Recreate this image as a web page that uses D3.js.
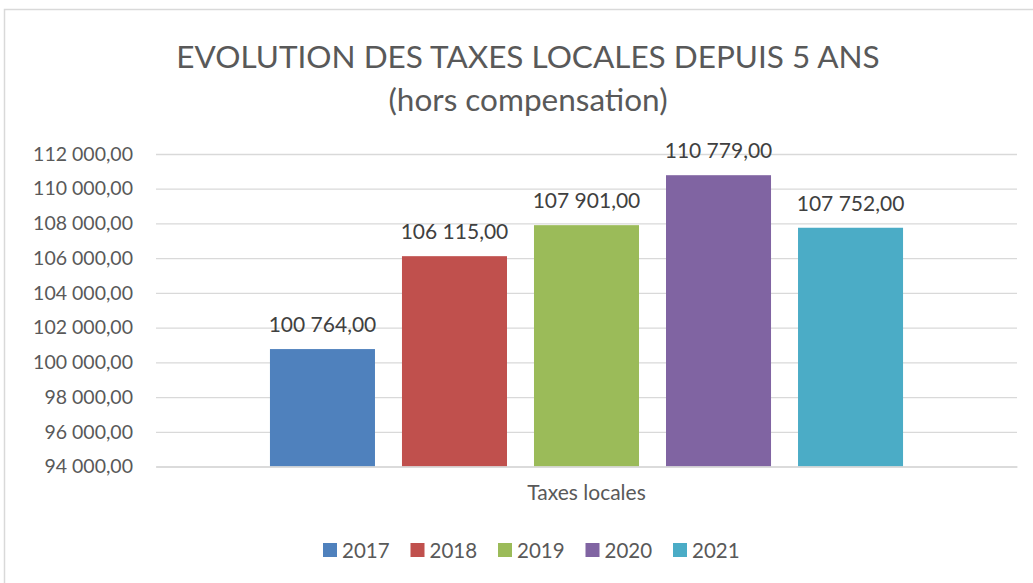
<!doctype html>
<html>
<head>
    <meta charset="utf-8">
    <script src="https://d3js.org/d3.v7.min.js"></script>
    <style>
        body { margin: 0; background: #fff; }
        text { font-family: Lato, "Open Sans", sans-serif; }
    </style>
</head>
<body>
    <script>
        // donnees
        var categorie = ["Taxes locales"];
        var annees = ["2017", "2018", "2019", "2020", "2021"];
        var valeurs = [100764, 106115, 107901, 110779, 107752];
        var couleurs = ["#4f81bd", "#c0504d", "#9bbb59", "#8064a2", "#4bacc6"];
        var ticksY = [94000, 96000, 98000, 100000, 102000, 104000, 106000, 108000, 110000, 112000];

        var width = 1033;
        var height = 583;

        var fr = d3.formatLocale({ decimal: ",", thousands: " ", grouping: [3], currency: ["", " €"] });
        var fmt = fr.format(",.2f");

        var svg = d3.select("body").append("svg")
            .attr("width", width)
            .attr("height", height);

        // cadre du graphique (coupe a droite et en bas)
        svg.append("rect")
            .attr("x", 4.5).attr("y", 9.5)
            .attr("width", 1040).attr("height", 600)
            .attr("fill", "#fff")
            .attr("stroke", "#d9d9d9")
            .attr("stroke-width", 1.5);

        // titre
        svg.append("text")
            .attr("x", 528).attr("y", 68)
            .attr("text-anchor", "middle")
            .attr("font-size", 31.5)
            .attr("fill", "#595959")
            .text("EVOLUTION DES TAXES LOCALES DEPUIS 5 ANS");
        svg.append("text")
            .attr("x", 528).attr("y", 111)
            .attr("text-anchor", "middle")
            .attr("font-size", 31.5)
            .attr("fill", "#595959")
            .text("(hors compensation)");

        var y = d3.scaleLinear()
            .domain([94000, 112000])
            .range([466.5, 154]);

        var x0 = d3.scaleBand()
            .domain(categorie)
            .range([156, 1017])
            .paddingInner(0)
            .paddingOuter(0.18);

        var x1 = d3.scaleBand()
            .domain(annees)
            .range([0, x0.bandwidth()])
            .paddingInner(0.2045)
            .paddingOuter(0);

        // axe Y avec grille
        var axeY = d3.axisLeft(y)
            .tickValues(ticksY)
            .tickSize(-(1017 - 156))
            .tickPadding(23)
            .tickFormat(fmt);

        var gY = svg.append("g")
            .attr("transform", "translate(156,0)")
            .call(axeY);
        gY.select(".domain").remove();
        gY.selectAll(".tick line").attr("stroke", "#d9d9d9").attr("stroke-width", 1.3);
        gY.selectAll(".tick text")
            .attr("font-size", 19.5)
            .attr("fill", "#595959")
            .style("font-family", "Lato, sans-serif");

        // barres
        var groupe = svg.append("g")
            .attr("transform", "translate(" + x0(categorie[0]) + ",0)");

        groupe.selectAll("rect")
            .data(valeurs)
            .enter()
            .append("rect")
            .attr("x", function(d, i) { return x1(annees[i]); })
            .attr("y", function(d) { return y(d); })
            .attr("width", x1.bandwidth())
            .attr("height", function(d) { return y(94000) - y(d); })
            .attr("fill", function(d, i) { return couleurs[i]; });

        // etiquettes de valeur
        groupe.selectAll("text.val")
            .data(valeurs)
            .enter()
            .append("text")
            .attr("class", "val")
            .attr("x", function(d, i) { return x1(annees[i]) + x1.bandwidth() / 2; })
            .attr("y", function(d) { return y(d) - 17; })
            .attr("text-anchor", "middle")
            .attr("font-size", 21)
            .attr("fill", "#404040")
            .text(function(d) { return fmt(d); });

        // axe X (ligne de base)
        var axeX = d3.axisBottom(x0).tickSize(0).tickPadding(19);
        var gX = svg.append("g")
            .attr("transform", "translate(0," + y(94000) + ")")
            .call(axeX);
        gX.select(".domain").attr("stroke", "#d9d9d9").attr("stroke-width", 1.3);
        gX.selectAll(".tick text")
            .attr("font-size", 21)
            .attr("fill", "#595959")
            .style("font-family", "Lato, sans-serif");

        // legende
        var legende = svg.append("g")
            .attr("transform", "translate(323,550)");
        var item = legende.selectAll("g")
            .data(annees)
            .enter()
            .append("g")
            .attr("transform", function(d, i) { return "translate(" + (i * 87.5) + ",0)"; });
        item.append("rect")
            .attr("x", 0).attr("y", -7)
            .attr("width", 14).attr("height", 14)
            .attr("fill", function(d, i) { return couleurs[i]; });
        item.append("text")
            .attr("x", 19).attr("y", 7.5)
            .attr("font-size", 20.5)
            .attr("fill", "#595959")
            .text(function(d) { return d; });
    </script>
</body>
</html>
